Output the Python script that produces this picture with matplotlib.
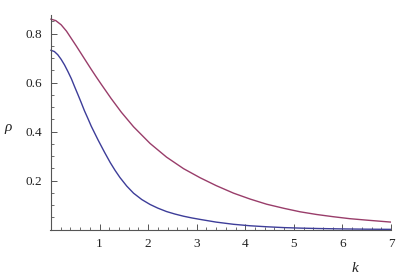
import matplotlib.pyplot as plt
from matplotlib.ticker import MultipleLocator

# values
k_red = [0.0, 0.1, 0.21, 0.32, 0.42, 0.52, 0.62, 0.72, 0.83, 0.93, 1.04,
         1.24, 1.45, 1.7, 2.04, 2.38, 2.73, 3.07, 3.4, 3.76, 4.1, 4.44, 4.8,
         5.13, 5.47, 5.81, 6.15, 6.5, 6.75, 7.0]
rho_red = [0.859, 0.853, 0.836, 0.81, 0.78, 0.75, 0.719, 0.688, 0.654,
           0.624, 0.592, 0.535, 0.479, 0.42, 0.352, 0.296, 0.249, 0.212,
           0.18, 0.149, 0.125, 0.104, 0.087, 0.073, 0.062, 0.053, 0.045,
           0.039, 0.035, 0.031]

k_blue = [0.0, 0.07, 0.14, 0.21, 0.28, 0.35, 0.42, 0.49, 0.56, 0.62, 0.69,
          0.76, 0.83, 0.9, 0.97, 1.1, 1.22, 1.32, 1.42, 1.56, 1.7, 1.87, 2.04,
          2.2, 2.38, 2.55, 2.73, 2.9, 3.07, 3.4, 3.76, 4.1, 4.44, 4.8, 5.13,
          5.5, 6.0, 6.5, 7.0]
rho_blue = [0.732, 0.727, 0.714, 0.695, 0.672, 0.645, 0.616, 0.582, 0.549,
            0.52, 0.485, 0.454, 0.422, 0.394, 0.366, 0.317, 0.274, 0.242,
            0.213, 0.178, 0.149, 0.123, 0.103, 0.088, 0.074, 0.064, 0.055,
            0.048, 0.042, 0.031, 0.022, 0.016, 0.012, 0.0085, 0.0065, 0.0048,
            0.0032, 0.0021, 0.0014]

x_ticks = [1, 2, 3, 4, 5, 6, 7]
y_ticks = [0.2, 0.4, 0.6, 0.8]

serif = ["Liberation Serif", "DejaVu Serif"]
axis_col = "#555555"

fig = plt.figure(figsize=(4.03, 2.75), dpi=100)
ax = fig.add_axes([49.5 / 403, 45.3 / 275, 341.5 / 403, 214.7 / 275])

ax.plot(k_blue, rho_blue, color="#3d3d99", lw=1.0)
ax.plot(k_red, rho_red, color="#993d6a", lw=1.0)

ax.set_xlim(-0.03, 7.0)
ax.set_ylim(0, 0.876)

for s in ["top", "right"]:
    ax.spines[s].set_visible(False)
ax.spines["left"].set_position(("data", 0))
for s in ["left", "bottom"]:
    ax.spines[s].set_color(axis_col)
    ax.spines[s].set_linewidth(0.8)

ax.set_xticks(x_ticks)
ax.set_yticks(y_ticks)
ax.xaxis.set_minor_locator(MultipleLocator(0.2))
ax.yaxis.set_minor_locator(MultipleLocator(0.05))
ax.tick_params(which="major", direction="in", length=4, width=0.7,
               color=axis_col, labelsize=9.5, pad=6)
ax.tick_params(which="minor", direction="in", length=2, width=0.6,
               color=axis_col)
ax.set_xticklabels([str(v) for v in x_ticks], family=serif, color="#222222")
ax.set_yticklabels([f"{v:.1f}" for v in y_ticks], family=serif,
                   color="#222222")

fig.text(8 / 403, 1 - 128 / 275, "ρ", family=serif, style="italic",
         fontsize=11, ha="center", va="center", color="#222222")
fig.text(355 / 403, 1 - 268 / 275, "k", family=serif, style="italic",
         fontsize=11, ha="center", va="center", color="#222222")

fig.savefig("out.png", dpi=100)
